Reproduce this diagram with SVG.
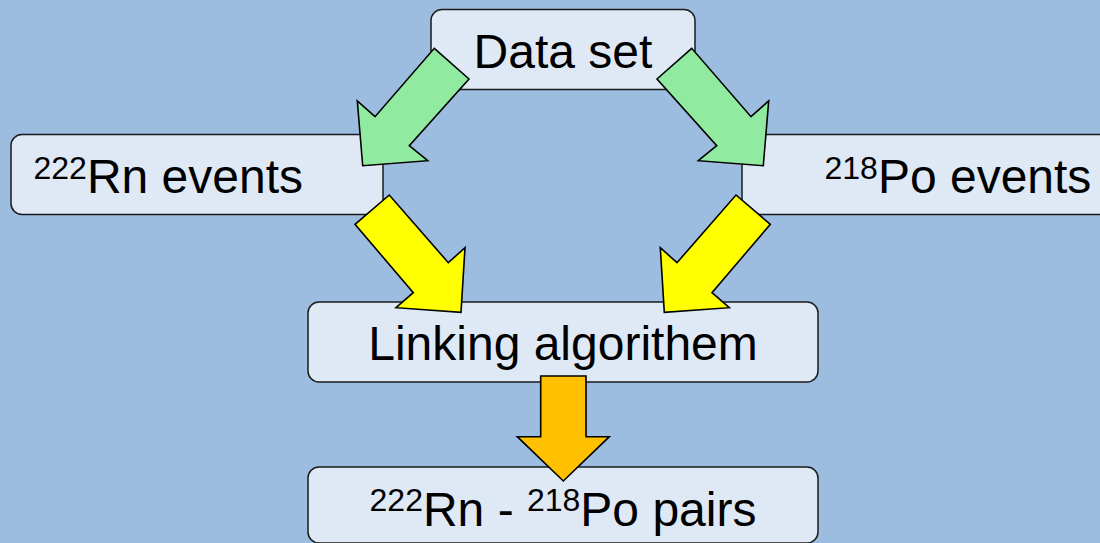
<svg xmlns="http://www.w3.org/2000/svg" width="1100" height="543" viewBox="0 0 1100 543">
<style>
.box{fill:#dfe9f5;stroke:#1a1a1a;stroke-width:1.5}
.t{font-family:"Liberation Sans",Arial,sans-serif;font-size:48px;fill:#000}
.sup{font-size:32px}
.arr{stroke:#000;stroke-width:1.6;stroke-linejoin:miter}
.green{fill:#90eba1}
.yellow{fill:#ffff00}
.orange{fill:#ffc000}
</style>
<rect width="1100" height="543" fill="#9dbde0"/>
<g id="node-dataset">
<rect class="box" x="431" y="9.5" width="264" height="80" rx="11"/>
<text class="t" x="563" y="68" text-anchor="middle">Data set</text>
</g>
<g id="node-rn">
<rect class="box" x="11" y="134.5" width="372" height="80" rx="11"/>
<text class="t" x="33.5" y="193"><tspan class="sup" dy="-14.5">222</tspan><tspan dy="14.5">Rn events</tspan></text>
</g>
<g id="node-po">
<rect class="box" x="742" y="134.5" width="372" height="80" rx="11"/>
<text class="t" x="824.5" y="193"><tspan class="sup" dy="-14.5">218</tspan><tspan dy="14.5">Po events</tspan></text>
</g>
<g id="node-linking">
<rect class="box" x="308" y="302" width="510" height="80" rx="11"/>
<text class="t" x="563" y="360" text-anchor="middle">Linking algorithem</text>
</g>
<g id="node-pairs">
<rect class="box" x="308" y="467" width="510" height="76" rx="11"/>
<text class="t" x="563" y="525.5" text-anchor="middle"><tspan class="sup" dy="-14.5">222</tspan><tspan dy="14.5">Rn - </tspan><tspan class="sup" dy="-14.5">218</tspan><tspan dy="14.5">Po pairs</tspan></text>
</g>
<g id="connectors">
<polygon class="arr green" points="434.3,48.3 469,79 409.3,145.7 427.7,160.7 362.7,165.7 357.3,101 375,116.7"/>
<polygon class="arr green" points="691.7,48.3 657,79 716.7,145.7 698.3,160.7 763.3,165.7 768.7,101 751,116.7"/>
<polygon class="arr yellow" points="389.3,195 355,224.3 413.3,292.7 396,307.7 461,312.3 465,247.7 448.3,262.7"/>
<polygon class="arr yellow" points="736,195 770.3,224.3 712,292.7 729.3,307.7 664.3,312.3 660.3,247.7 677,262.7"/>
<polygon class="arr orange" points="540.7,376 586,376 586,436.7 609.3,436.7 563.3,481 517.3,436.7 540.7,436.7"/>
</g>
</svg>
